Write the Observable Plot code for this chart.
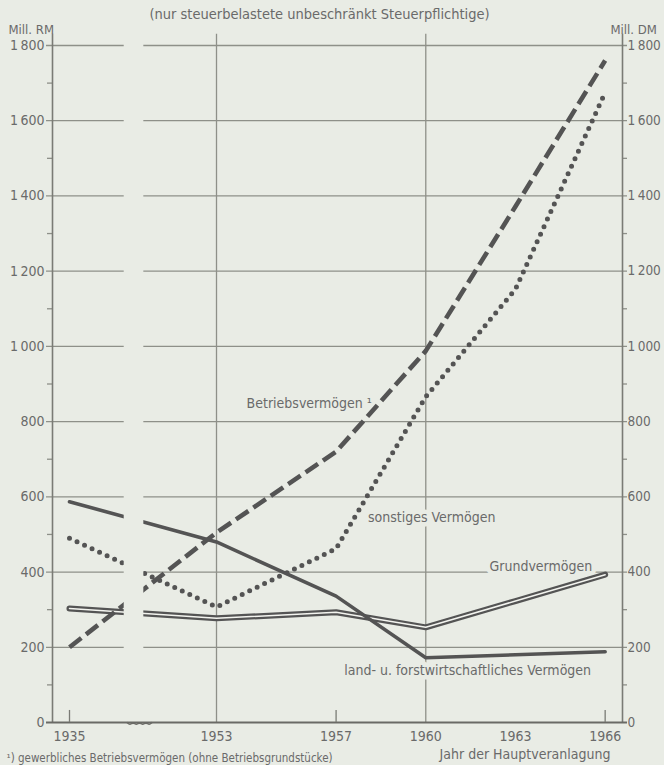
<!DOCTYPE html>
<html><head><meta charset="utf-8">
<script src="https://cdn.jsdelivr.net/npm/d3@7"></script>
<script src="https://cdn.jsdelivr.net/npm/@observablehq/plot@0.6"></script>
<style>
html,body{margin:0;padding:0;background:#e9ece5;overflow:hidden;}
#chart svg{display:block;}
</style></head><body><div id="chart"></div>
<script>
// ---- data ----
const years = [1935, 1953, 1957, 1960, 1963, 1966];
const xTickLabels = ["1935", "1953", "1957", "1960", "1963", "1966"];
const betriebsvermoegen = [200, 505, 720, 988, 1372, 1760];
const sonstigesVermoegen = [490, 307, 462, 866, 1152, 1675];
const grundvermoegen = [303, 277, 293, 253, 323, 393];
const landForstVermoegen = [587, 480, 336, 172, 180, 188];
const yTicks = [0, 200, 400, 600, 800, 1000, 1200, 1400, 1600, 1800];
const yMinorTicks = [100, 300, 500, 700, 900, 1100, 1300, 1500, 1700];
const xGridYears = [1953, 1960];
const xSmallTickYears = [1935, 1957, 1966];
const axisBreak = [1941.7, 1944.1];
const seriesLabels = ["Betriebsvermögen ¹", "sonstiges Vermögen", "Grundvermögen", "land- u. forstwirtschaftliches Vermögen"];
const labelYears = [1956.1, 1960.2, 1963.85, 1961.4];
const labelValues = [848, 544, 416, 139];
const titleText = "(nur steuerbelastete unbeschränkt Steuerpflichtige)";
const leftUnit = "Mill. RM";
const rightUnit = "Mill. DM";
const xAxisTitle = "Jahr der Hauptveranlagung";
const footnote = "¹) gewerbliches Betriebsvermögen (ohne Betriebsgrundstücke)";

// ---- style ----
const bg = "#e9ece5";
const ink = "#545454";
const grid = "#8e9089";
const textCol = "#6a6a6a";
const font = "'Liberation Sans Narrow', 'DejaVu Sans Condensed', 'DejaVu Sans', sans-serif";
const fs = 14;

const fmt = d => d >= 1000 ? `${Math.floor(d / 1000)}\u2009${String(d % 1000).padStart(3, "0")}` : String(d);
const xDomain = [1933, 1935, 1953, 1966.58];
const idx = years.map((_, i) => i);

const plot = Plot.plot({
  width: 664,
  height: 765,
  marginLeft: 52,
  marginRight: 42,
  marginTop: 45,
  marginBottom: 43,
  style: {background: bg, fontFamily: font, fontSize: fs + "px", color: textCol},
  x: {type: "linear", domain: xDomain, range: [52, 69, 216, 622], axis: null},
  y: {domain: [0, 1800], axis: null},
  marks: [
    // horizontal gridlines with outward ticks on both axes
    Plot.ruleY(yTicks.filter(d => d > 0), {insetLeft: -6, insetRight: -5, stroke: grid, strokeWidth: 1.3}),
    // minor ticks
    Plot.ruleY(yMinorTicks, {insetLeft: -5, insetRight: 570, stroke: grid, strokeWidth: 1.3}),
    Plot.ruleY(yMinorTicks, {insetLeft: 570, insetRight: -5, stroke: grid, strokeWidth: 1.3}),
    // vertical gridlines
    Plot.ruleX(xGridYears, {y1: 0, y2: 1830, stroke: grid, strokeWidth: 1.3}),
    // series labels with halo
    Plot.text(idx, {x: i => labelYears[i], y: i => labelValues[i], text: i => seriesLabels[i],
      fill: textCol, stroke: bg, strokeWidth: 9, fontSize: fs, textAnchor: "middle"}),
    // series
    Plot.line(idx, {x: i => years[i], y: i => grundvermoegen[i], stroke: ink, strokeWidth: 6, strokeLinejoin: "round"}),
    Plot.line(idx, {x: i => years[i], y: i => grundvermoegen[i], stroke: "#f3f4ef", strokeWidth: 1.5, strokeLinejoin: "round"}),
    Plot.line(idx, {x: i => years[i], y: i => landForstVermoegen[i], stroke: ink, strokeWidth: 3.6}),
    Plot.line(idx, {x: i => years[i], y: i => sonstigesVermoegen[i], stroke: ink, strokeWidth: 5, strokeDasharray: "0,8.3", strokeLinecap: "round"}),
    Plot.line(idx, {x: i => years[i], y: i => betriebsvermoegen[i], stroke: ink, strokeWidth: 4.6, strokeDasharray: "15,6", strokeLinecap: "butt"}),
    // axis break
    Plot.rect([axisBreak], {x1: d => d[0], x2: d => d[1], y1: 0, y2: 1850, fill: bg}),
    // vertical axes
    Plot.ruleX([xDomain[0], xDomain[3]], {y1: 0, y2: 1830, stroke: "#7a7b75", strokeWidth: 1.6}),
    // x axis line
    Plot.ruleY([0], {insetLeft: -6, insetRight: -5, stroke: "#6a6a66", strokeWidth: 2}),
    // small x ticks
    Plot.ruleX(xSmallTickYears, {y1: 0, y2: 32, stroke: "#7a7b75", strokeWidth: 1.3}),
    // y tick labels left/right
    Plot.text(yTicks, {y: d => d, text: fmt, frameAnchor: "left", dx: -8, textAnchor: "end", fill: textCol, fontSize: fs}),
    Plot.text(yTicks, {y: d => d, text: fmt, frameAnchor: "right", dx: 5, textAnchor: "start", fill: textCol, fontSize: 13.5}),
    // x tick labels
    Plot.text(idx, {x: i => years[i], text: i => xTickLabels[i], frameAnchor: "bottom", dy: 18, fill: textCol, fontSize: fs}),
    // units, titles
    Plot.text([leftUnit], {text: d => d, frameAnchor: "top-left", dx: -44, dy: -21, textAnchor: "start", fill: textCol, fontSize: 13}),
    Plot.text([rightUnit], {text: d => d, frameAnchor: "top-right", dx: -12, dy: -21, textAnchor: "start", fill: textCol, fontSize: 13}),
    Plot.text([titleText], {text: d => d, frameAnchor: "top", dx: -18, dy: -37, fill: textCol, fontSize: 14.5}),
    Plot.text([xAxisTitle], {text: d => d, frameAnchor: "bottom-right", dx: -12, dy: 36, textAnchor: "end", fill: textCol, fontSize: fs}),
    Plot.text([footnote], {text: d => d, frameAnchor: "bottom-left", dx: -46, dy: 39, lineAnchor: "bottom", textAnchor: "start", fill: textCol, fontSize: 11.5})
  ]
});

document.getElementById("chart").appendChild(plot);

// squiggle on the broken x axis
const sx = plot.scale("x"), sy = plot.scale("y");
const fx = sx.apply ? sx.apply : d3.scaleLinear(sx.domain, sx.range);
const fy = sy.apply ? sy.apply : d3.scaleLinear(sy.domain, sy.range);
const a = fx(axisBreak[0]) + 3, b = fx(axisBreak[1]) + 9, y0 = fy(0) + 1;
const n = 8, pts = d3.range(n + 1).map(k => [a + (b - a) * k / n, y0 + (k % 2 ? 2.2 : -0.8)]);
d3.select(plot).append("path").attr("d", d3.line().curve(d3.curveBasis)(pts))
  .attr("fill", "none").attr("stroke", "#6a6a66").attr("stroke-width", 1.4);
</script>
</body></html>
